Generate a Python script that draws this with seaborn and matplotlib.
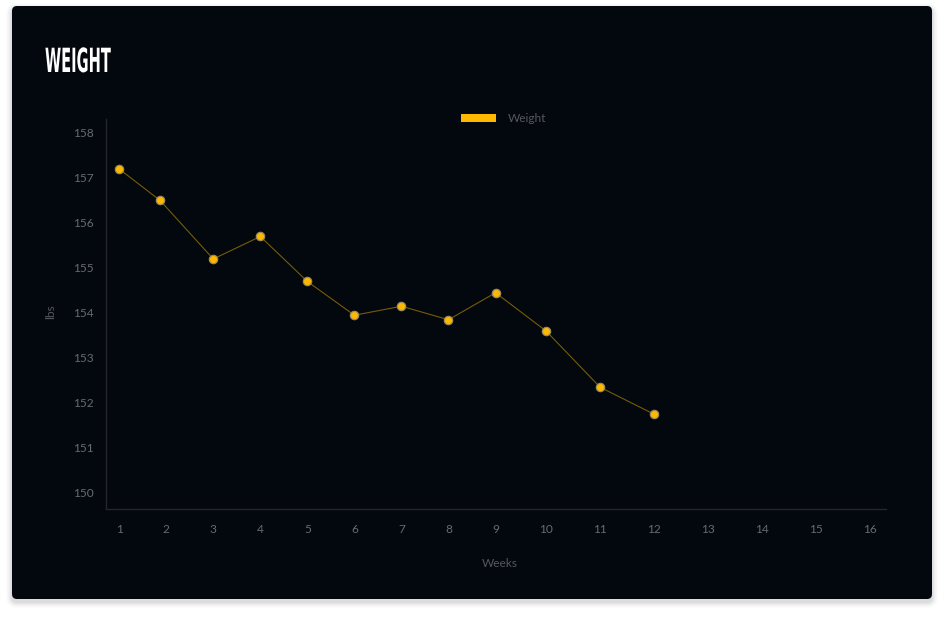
import numpy as np
import pandas as pd
import matplotlib
matplotlib.use("Agg")
import matplotlib.pyplot as plt
import seaborn as sns
from matplotlib.patches import FancyBboxPatch, Patch
from matplotlib.patheffects import AbstractPathEffect
from matplotlib.transforms import Affine2D

# ---- data -------------------------------------------------------------
weeks = [1, 1.87, 3, 4, 5, 6, 7, 8, 9, 10, 11, 12]
weights = [157.2, 156.5, 155.2, 155.7, 154.7, 153.95, 154.15, 153.85,
           154.45, 153.6, 152.35, 151.75]
week_ticks = list(range(1, 17))
week_labels = [str(w) for w in week_ticks]
lbs_ticks = list(range(150, 159))

# ---- style ------------------------------------------------------------
CARD = "#03070e"
GOLD = "#ffb800"
LINE = "#765c06"
TICK = "#676a70"
LABEL = "#55585d"

sns.set_theme(style="dark")
plt.rcParams["font.family"] = ["Lato", "DejaVu Sans"]

fig = plt.figure(figsize=(9.44, 6.17), dpi=100)
fig.patch.set_facecolor("white")

# card with soft shadow (coordinates in inches)
cx, cy, cw, ch = 0.12, 0.18, 9.20, 5.93
for i, a in enumerate([0.035, 0.03, 0.025, 0.02, 0.015, 0.01]):
    grow = 0.01 * (i + 1)
    fig.add_artist(FancyBboxPatch(
        (cx - grow, cy - grow - 0.03), cw + 2 * grow, ch + 2 * grow,
        boxstyle=f"round,pad=0,rounding_size={0.05 + grow}",
        transform=fig.dpi_scale_trans, facecolor="black", edgecolor="none",
        alpha=a, zorder=-3))
fig.add_artist(FancyBboxPatch(
    (cx, cy), cw, ch, boxstyle="round,pad=0,rounding_size=0.05",
    transform=fig.dpi_scale_trans, facecolor=CARD, edgecolor="none",
    zorder=-2))

# ---- week axis: each label gets a slot sized by its text length ---------
slot_w = np.array([40 + 7 * len(s) for s in week_labels], dtype=float)
centers = np.cumsum(slot_w) - slot_w / 2
centers -= centers[0]
ext_weeks = np.concatenate([[0], week_ticks, [17]]).astype(float)
ext_pos = np.concatenate([[centers[0] - slot_w[0]], centers,
                          [centers[-1] + slot_w[-1]]])


def week_to_pos(x):
    return np.interp(x, ext_weeks, ext_pos)


def pos_to_week(p):
    return np.interp(p, ext_pos, ext_weeks)


ax = fig.add_axes([106 / 944, 1 - 509 / 617, 780 / 944, 390 / 617])
ax.set_facecolor("none")
ax.set_xscale("function", functions=(week_to_pos, pos_to_week))

df = pd.DataFrame({"Week": weeks, "Weight": weights})
sns.lineplot(data=df, x="Week", y="Weight", ax=ax, color=LINE, lw=0.8,
             marker="o", markersize=6, markerfacecolor=GOLD,
             markeredgecolor="#9a8a5e", markeredgewidth=0.9, legend=False,
             zorder=3)

ax.set_xlim(0.719, 16.29)
ax.set_ylim(149.644, 158.311)
ax.set_xticks(week_ticks)
ax.set_xticklabels(week_labels)
ax.set_yticks(lbs_ticks)
ax.minorticks_off()
ax.grid(False)
ax.tick_params(axis="both", length=0, colors=TICK, labelsize=8.6)
ax.tick_params(axis="x", pad=11)
ax.tick_params(axis="y", pad=9)

for side in ("top", "right"):
    ax.spines[side].set_visible(False)
for side in ("left", "bottom"):
    ax.spines[side].set_visible(True)
    ax.spines[side].set_color("#25272b")
    ax.spines[side].set_linewidth(1.0)

ax.set_xlabel("Weeks", color=LABEL, fontsize=8.6)
ax.set_ylabel("lbs", color=LABEL, fontsize=8.6)
ax.xaxis.set_label_coords(0.505, -0.126)
ax.yaxis.set_label_coords(-0.064, 0.505)

leg = ax.legend(handles=[Patch(facecolor=GOLD, edgecolor="none", label="Weight")],
                loc="center left", bbox_to_anchor=(461 / 944, 1 - 119 / 617),
                bbox_transform=fig.transFigure, frameon=False, fontsize=8.6,
                handlelength=2.9, handleheight=0.62, handletextpad=1.0,
                borderpad=0, borderaxespad=0)
for t in leg.get_texts():
    t.set_color(LABEL)


# ---- heading in a tall, narrow display style ---------------------------
class HSqueeze(AbstractPathEffect):
    """Draw text glyphs compressed horizontally about their start point."""

    def __init__(self, sx):
        super().__init__()
        self.sx = sx

    def draw_path(self, renderer, gc, tpath, affine, rgbFace=None):
        x0 = affine.get_matrix()[0, 2]
        squeeze = Affine2D().translate(-x0, 0).scale(self.sx, 1).translate(x0, 0)
        renderer.draw_path(gc, tpath, affine + squeeze, rgbFace)


title = fig.text(45 / 944, 1 - 72 / 617, "WEIGHT", color="white",
                 fontsize=24, fontweight="bold",
                 family=["Liberation Sans Narrow", "DejaVu Sans"],
                 ha="left", va="baseline")
fig.canvas.draw()
w = title.get_window_extent().width
title.set_path_effects([HSqueeze(66 / w)])

fig.savefig("out.png", dpi=100, facecolor=fig.get_facecolor())
